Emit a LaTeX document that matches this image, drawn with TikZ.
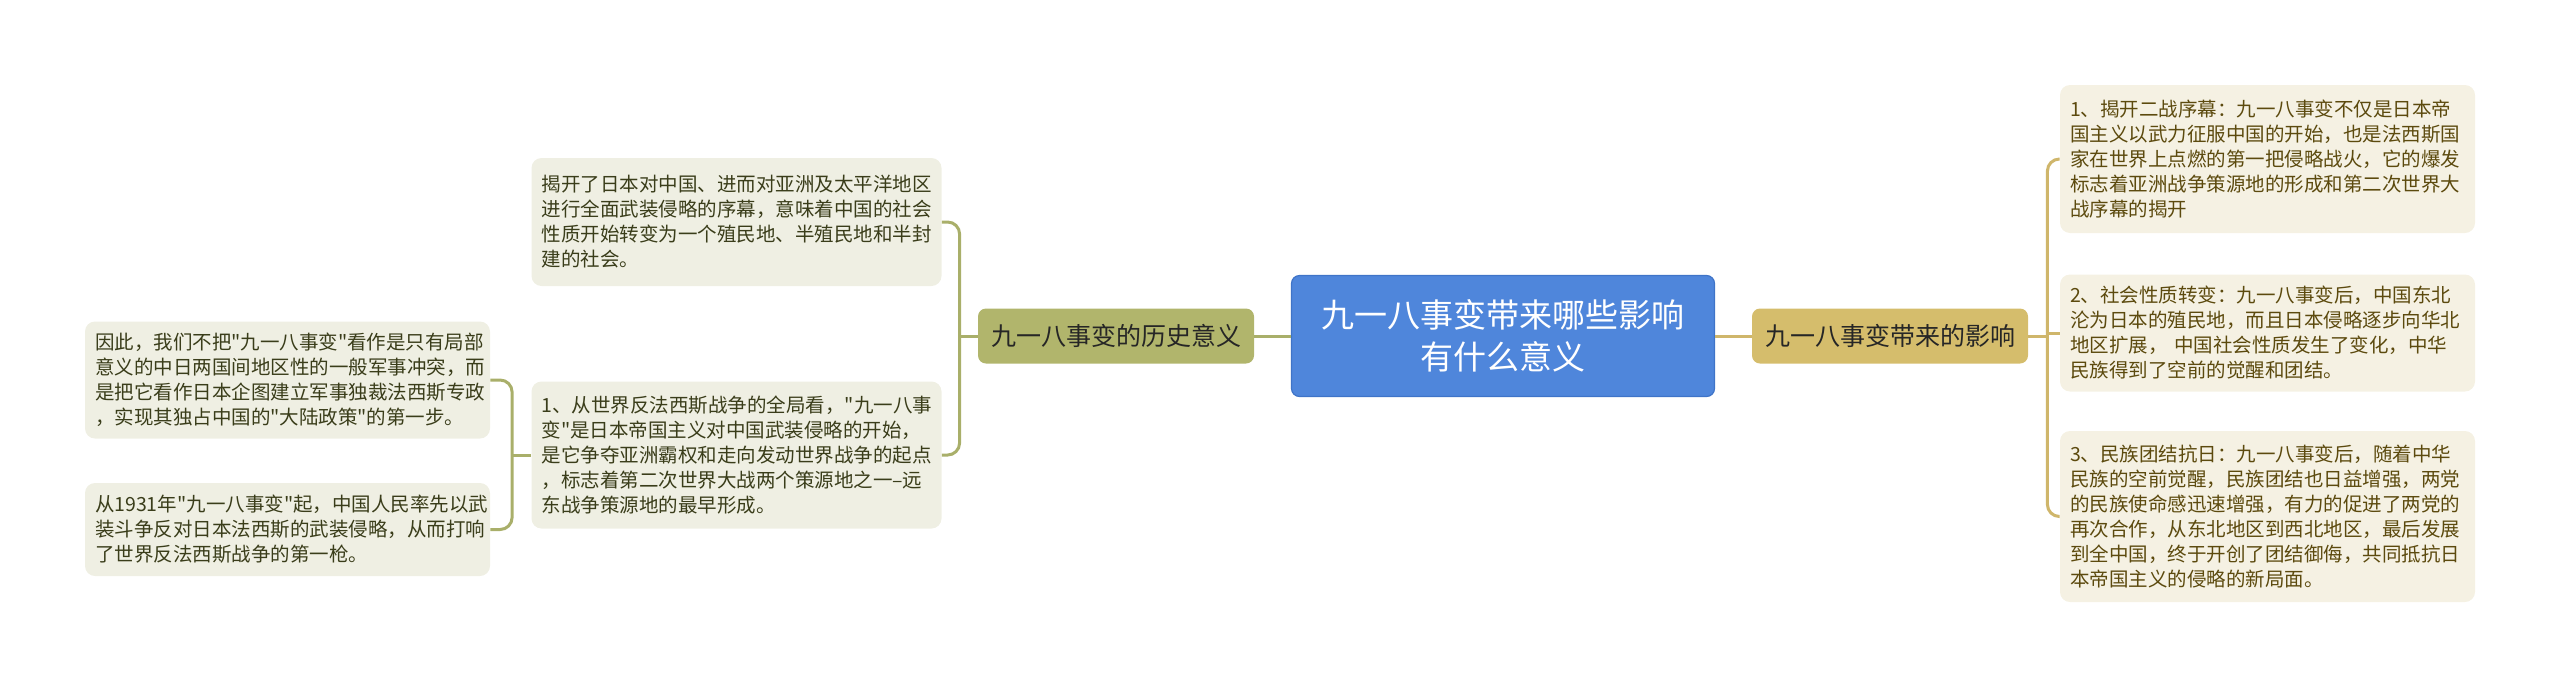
\documentclass[tikz,border=0pt]{standalone}
\usepackage{fontspec}
\setmainfont{Noto Sans CJK SC}[Ligatures=TeXOff]

\definecolor{rootblue}{HTML}{4F86DB}
\definecolor{rootedge}{HTML}{3F74C8}
\definecolor{histgreen}{HTML}{B1B56C}
\definecolor{inflgold}{HTML}{D5BD6C}
\definecolor{histleaf}{HTML}{EFEFE3}
\definecolor{inflleaf}{HTML}{F5F1E3}
\definecolor{histline}{HTML}{A9AF6A}
\definecolor{inflline}{HTML}{CFB66B}
\definecolor{histtext}{HTML}{3A3D1A}
\definecolor{infltext}{HTML}{5C4A0E}

\begin{document}
\begin{tikzpicture}[x=0.5pt,y=-0.5pt,
    rootbox/.style={rectangle,rounded corners=4pt,fill=rootblue,draw=rootedge,line width=0.6pt,
      text=white,align=center,font=\fontsize{16.5}{21}\selectfont,
      minimum width=211.5pt,minimum height=60.5pt,inner sep=0pt},
    topicbox/.style={rectangle,rounded corners=4pt,text=black!85,
      font=\fontsize{12.5}{15}\selectfont,minimum width=138pt,minimum height=27.5pt,inner sep=0pt},
    leafbox/.style={rectangle,rounded corners=5pt,align=left,
      font=\fontsize{9.75}{12.5}\selectfont,inner xsep=5pt,inner ysep=0pt},
    histlink/.style={draw=histline,line width=1.5pt,rounded corners=6pt},
    infllink/.style={draw=inflline,line width=1.5pt,rounded corners=6pt}]

  \useasboundingbox (0,0) rectangle (2560,687);

  % centre
  \node[rootbox] (root) at (1503,336) {九一八事变带来哪些影响\\有什么意义};

  % left branch
  \node[topicbox,fill=histgreen] (hist) at (1116,336) {九一八事变的历史意义};

  \node[leafbox,fill=histleaf,text=histtext,text width=195pt,minimum height=64pt] (start) at (736.5,222)
    {揭开了日本对中国、进而对亚洲及太平洋地区\\进行全面武装侵略的序幕，意味着中国的社会\\性质开始转变为一个殖民地、半殖民地和半封\\建的社会。};
  \node[leafbox,fill=histleaf,text=histtext,text width=195pt,minimum height=73.5pt] (global) at (736.5,455)
    {1、从世界反法西斯战争的全局看，"九一八事\\变"是日本帝国主义对中国武装侵略的开始，\\是它争夺亚洲霸权和走向发动世界战争的起点\\，标志着第二次世界大战两个策源地之一–远\\东战争策源地的最早形成。};

  \node[leafbox,fill=histleaf,text=histtext,text width=192.5pt,minimum height=58.5pt] (notlocal) at (287.5,380)
    {因此，我们不把"九一八事变"看作是只有局部\\意义的中日两国间地区性的一般军事冲突，而\\是把它看作日本企图建立军事独裁法西斯专政\\，实现其独占中国的"大陆政策"的第一步。};
  \node[leafbox,fill=histleaf,text=histtext,text width=192.5pt,minimum height=46.5pt] (firstshot) at (287.5,529.5)
    {从1931年"九一八事变"起，中国人民率先以武\\装斗争反对日本法西斯的武装侵略，从而打响\\了世界反法西斯战争的第一枪。};

  % right branch
  \node[topicbox,fill=inflgold] (infl) at (1890,336) {九一八事变带来的影响};

  \node[leafbox,fill=inflleaf,text=infltext,text width=197.5pt,minimum height=74pt] (prelude) at (2267.5,159)
    {1、揭开二战序幕：九一八事变不仅是日本帝\\国主义以武力征服中国的开始，也是法西斯国\\家在世界上点燃的第一把侵略战火，它的爆发\\标志着亚洲战争策源地的形成和第二次世界大\\战序幕的揭开};
  \node[leafbox,fill=inflleaf,text=infltext,text width=197.5pt,minimum height=58.5pt] (society) at (2267.5,333)
    {2、社会性质转变：九一八事变后，中国东北\\沦为日本的殖民地，而且日本侵略逐步向华北\\地区扩展， 中国社会性质发生了变化，中华\\民族得到了空前的觉醒和团结。};
  \node[leafbox,fill=inflleaf,text=infltext,text width=197.5pt,minimum height=85.5pt] (unity) at (2267.5,516.5)
    {3、民族团结抗日：九一八事变后，随着中华\\民族的空前觉醒，民族团结也日益增强，两党\\的民族使命感迅速增强，有力的促进了两党的\\再次合作，从东北地区到西北地区，最后发展\\到全中国，终于开创了团结御侮，共同抵抗日\\本帝国主义的侵略的新局面。};

  % bracket joints
  \coordinate (hj) at ([xshift=-9pt]hist.west);
  \coordinate (gj) at ([xshift=-9.5pt]global.west);
  \coordinate (ij) at ([xshift=9.5pt]infl.east);

  % links
  \draw[histlink] (root.west) -- (hist.east);
  \draw[histlink] (hist.west) -- (hj);
  \draw[histlink] (start.east) -| (hj) |- (global.east);
  \draw[histlink] (global.west) -- (gj);
  \draw[histlink] (notlocal.east) -| (gj) |- (firstshot.east);

  \draw[infllink] (root.east) -- (infl.west);
  \draw[infllink] (infl.east) -- (ij);
  \draw[infllink] (prelude.west) -| (ij) |- (unity.west);
  \draw[infllink] (ij |- society.west) -- (society.west);
\end{tikzpicture}
\end{document}
